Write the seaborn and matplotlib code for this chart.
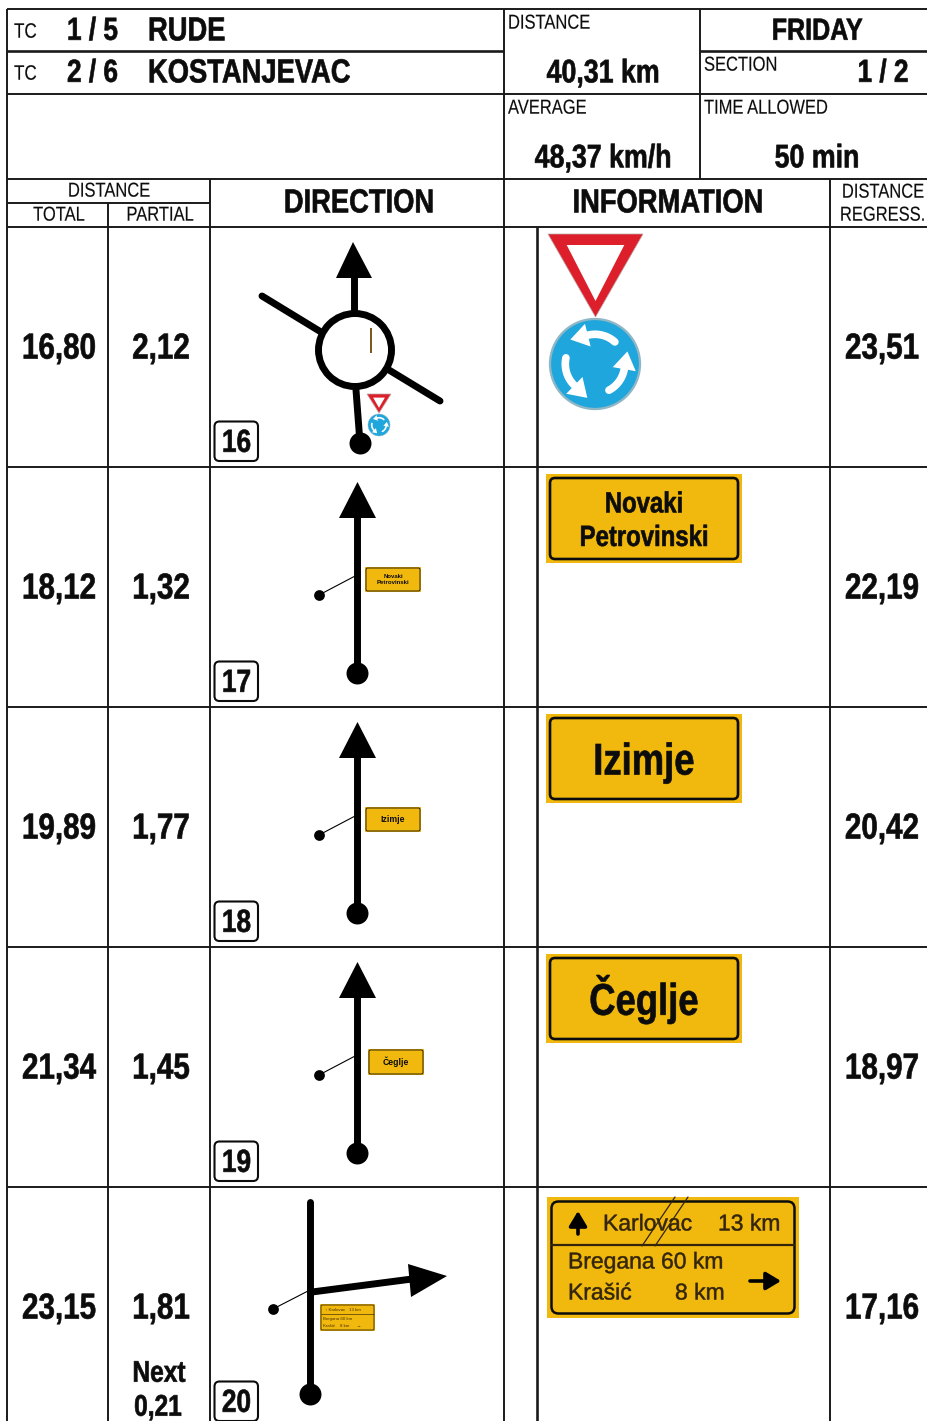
import matplotlib
matplotlib.use("Agg")
import matplotlib.pyplot as plt
from matplotlib.patches import Circle, FancyBboxPatch, Polygon, Rectangle
from matplotlib.patheffects import AbstractPathEffect
from matplotlib.transforms import Affine2D
import numpy as np
import pandas as pd
import seaborn as sns

totals = ["16,80", "18,12", "19,89", "21,34", "23,15"]
partials = ["2,12", "1,32", "1,77", "1,45", "1,81"]
regress = ["23,51", "22,19", "20,42", "18,97", "17,16"]
box_numbers = ["16", "17", "18", "19", "20"]
big_signs = ["Novaki\nPetrovinski", "Izimje", "Čeglje"]
big_sign_sizes = [21, 32, 32]
big_sign_shift = [1, 2, -2]
mini_signs = ["Novaki\nPetrovinski", "Izimje", "Čeglje"]
mini_sign_sizes = [4.3, 6.2, 6.2]

FONT = ["Liberation Sans", "DejaVu Sans"]
YELLOW = "#f1b90e"
BLUE = "#1ea6dd"
RED = "#dd1f2b"
INK = "#0c0c0c"
NARROW = 0.82

ROW_TOPS = [227, 467, 707, 947, 1187]

sns.set_theme(style="white")
plt.rcParams["font.family"] = FONT

fig = plt.figure(figsize=(9.27, 14.21), dpi=100)
ax = fig.add_axes([0, 0, 1, 1])


class Squeeze(AbstractPathEffect):
    # no narrow font installed, so squeeze the glyphs sideways around the anchor
    def __init__(self, x0, sx=NARROW, stroke=0.0):
        super().__init__()
        self.x0 = x0
        self.sx = sx
        self.stroke = stroke

    def draw_path(self, renderer, gc, tpath, affine, rgbFace=None):
        sq = Affine2D().translate(-self.x0, 0).scale(self.sx, 1).translate(self.x0, 0)
        gc0 = renderer.new_gc()
        gc0.copy_properties(gc)
        gc0.set_linewidth(self.stroke)
        gc0.set_foreground(rgbFace)
        renderer.draw_path(gc0, tpath, affine + sq, rgbFace)
        gc0.restore()


def txt(x, y, s, size, bold=True, ha="center", **kw):
    ax.text(x, y + size * 0.08, s, fontsize=size, fontweight="bold" if bold else "normal",
            ha=ha, va="center", color=INK,
            path_effects=[Squeeze(x, stroke=0.45 if bold else 0.1)], **kw)


def roundabout_sign(cx, cy, r, lw):
    # blue disc with three white arrows running round the centre
    ax.add_patch(Circle((cx, cy), r, fc=BLUE, ec="#8fb7c6", lw=lw * 0.3, zorder=3))
    for start, end in [(48, 104), (298, 350), (168, 226)]:
        ang = np.radians(np.linspace(start, end, 20))
        rad = r * 0.66
        ax.plot(cx + rad * np.cos(ang), cy - rad * np.sin(ang), color="white", lw=lw,
                solid_capstyle="round", zorder=4)
        a = ang[-1]
        tang = np.array([-np.sin(a), -np.cos(a)])
        norm = np.array([np.cos(a), -np.sin(a)])
        base = np.array([cx + rad * np.cos(a), cy - rad * np.sin(a)])
        ax.add_patch(Polygon([base + tang * r * 0.4, base + norm * r * 0.26, base - norm * r * 0.26],
                             fc="white", ec="none", zorder=4))


def yield_sign(x0, x1, y0, y1, inset):
    mid = (x0 + x1) / 2
    ax.add_patch(Polygon([(x0, y0), (x1, y0), (mid, y1)], fc=RED, ec="#b9a6a6", lw=0.5, zorder=3))
    ax.add_patch(Polygon([(x0 + inset * 1.7, y0 + inset), (x1 - inset * 1.7, y0 + inset),
                          (mid, y1 - inset * 1.45)], fc="white", ec="none", zorder=4))


def yellow_sign(x0, y0, x1, y1, pad, lw, rnd):
    ax.add_patch(Rectangle((x0, y0), x1 - x0, y1 - y0, fc=YELLOW, ec="none", zorder=2))
    ax.add_patch(FancyBboxPatch((x0 + pad, y0 + pad), x1 - x0 - 2 * pad, y1 - y0 - 2 * pad,
                                boxstyle=f"round,pad=0,rounding_size={rnd}",
                                fc=YELLOW, ec=INK, lw=lw, zorder=3))


# table rules
rule = dict(colors="#1a1a1a", lw=1.4, zorder=5)
ax.hlines([9, 94, 179, 227, 467, 707, 947, 1187], 7, 927, **rule)
ax.hlines(51, 7, 504, lw=1.9, colors="#1a1a1a", zorder=5)
ax.hlines(51, 700, 927, lw=1.9, colors="#1a1a1a", zorder=5)
ax.hlines(203, 7, 210, **rule)
ax.vlines(7, 9, 1421, **rule)
ax.vlines(504, 9, 1421, **rule)
ax.vlines(700, 9, 179, **rule)
ax.vlines(210, 179, 1421, **rule)
ax.vlines(108, 203, 1421, **rule)
ax.vlines(537, 227, 1421, lw=1.9, colors="#1a1a1a", zorder=5)
ax.vlines(830, 179, 1421, **rule)

# header block
txt(14, 31, "TC", 15, bold=False, ha="left")
txt(14, 73, "TC", 15, bold=False, ha="left")
txt(67, 30, "1 / 5", 23, ha="left")
txt(67, 72, "2 / 6", 23, ha="left")
txt(148, 30, "RUDE", 24, ha="left")
txt(148, 72, "KOSTANJEVAC", 24, ha="left")
txt(508, 22, "DISTANCE", 14.5, bold=False, ha="left")
txt(704, 64, "SECTION", 14.5, bold=False, ha="left")
txt(508, 107, "AVERAGE", 14.5, bold=False, ha="left")
txt(704, 107, "TIME ALLOWED", 14.5, bold=False, ha="left")
txt(603, 72, "40,31 km", 23.5)
txt(817, 30, "FRIDAY", 22)
txt(883, 72, "1 / 2", 23)
txt(603, 157, "48,37 km/h", 23.5)
txt(817, 157, "50 min", 23.5)
txt(109, 190, "DISTANCE", 14.5, bold=False)
txt(59, 214, "TOTAL", 14.5, bold=False)
txt(160, 214, "PARTIAL", 14.5, bold=False)
txt(359, 202, "DIRECTION", 24)
txt(668, 202, "INFORMATION", 24)
txt(924, 191, "DISTANCE", 14.5, bold=False, ha="right")
txt(925, 214, "REGRESS.", 14.5, bold=False, ha="right")

# distance columns and number boxes
for top, total, part, reg, num in zip(ROW_TOPS, totals, partials, regress, box_numbers):
    txt(59, top + 120, total, 26)
    txt(161, top + 120, part, 26)
    txt(882, top + 120, reg, 26)
    ax.add_patch(FancyBboxPatch((214.5, top + 194.5), 43.5, 39.5, boxstyle="round,pad=0,rounding_size=5",
                                fc="white", ec=INK, lw=1.5, zorder=6))
    txt(236.5, top + 215, num, 23, zorder=7)
txt(159, 1372, "Next", 21.5)
txt(158, 1406, "0,21", 21.5)

# direction sketches
thick_roads = pd.DataFrame({
    "road": ["a", "a", "b", "b", "c", "c", "d", "d", "e", "e", "f", "f", "g", "g", "h", "h", "i", "i"],
    "x": [354, 354, 262, 321, 389, 440, 356, 360, 357, 357, 357, 357, 357, 357, 310, 310, 312, 412],
    "y": [275, 312, 296, 332, 370, 401, 390, 443, 673, 515, 913, 755, 1153, 995, 1394, 1202, 1292, 1279],
})
thin_roads = pd.DataFrame({
    "road": ["j", "j", "k", "k", "l", "l", "m", "m"],
    "x": [319, 357, 319, 357, 319, 357, 273, 308],
    "y": [595, 575, 835, 815, 1075, 1055, 1309, 1291],
})
sns.lineplot(data=thick_roads, x="x", y="y", units="road", estimator=None, sort=False,
             color="black", lw=5.0, ax=ax, solid_capstyle="round", zorder=4)
sns.lineplot(data=thin_roads, x="x", y="y", units="road", estimator=None, sort=False,
             color="black", lw=0.8, ax=ax, zorder=4)
start_dots = pd.DataFrame({"x": [360, 357, 357, 357, 310], "y": [443, 673, 913, 1153, 1394]})
side_dots = pd.DataFrame({"x": [319, 319, 319, 273], "y": [595, 835, 1075, 1309]})
sns.scatterplot(data=start_dots, x="x", y="y", s=250, color="black", lw=0, ax=ax, zorder=5)
sns.scatterplot(data=side_dots, x="x", y="y", s=60, color="black", lw=0, ax=ax, zorder=5)

ax.add_patch(Circle((355, 350), 36.5, fc="white", ec="black", lw=5.0, zorder=5))
ax.add_patch(Polygon([(353, 242), (372, 278), (336, 278)], fc="black", ec="none", zorder=5))
for top in ROW_TOPS[1:4]:
    ax.add_patch(Polygon([(357.5, top + 15), (376, top + 51), (339, top + 51)], fc="black", ec="none", zorder=5))
ax.add_patch(Polygon([(408, 1264), (447, 1276), (411, 1297)], fc="black", ec="none", zorder=5))
ax.vlines(371.5, 328, 353, colors="#6b4a08", lw=1.3, zorder=6)
yield_sign(367, 391, 394, 413, 3.6)
roundabout_sign(379, 425, 11, 1.2)

# mini signs in the sketches
mini_boxes = [(365, 567, 421, 592), (365, 807, 421, 832), (368, 1049, 424, 1075)]
for box, name, size in zip(mini_boxes, mini_signs, mini_sign_sizes):
    yellow_sign(box[0], box[1], box[2], box[3], 1, 0.6, 1.5)
    ax.text((box[0] + box[2]) / 2, (box[1] + box[3]) / 2, name, fontsize=size, fontweight="bold",
            family=FONT, ha="center", va="center", linespacing=1.1, color=INK, zorder=6)
yellow_sign(320, 1304, 375, 1331, 1, 0.5, 1)
ax.hlines(1314, 321, 374, colors="#4a3208", lw=0.5, zorder=6)
ax.text(325, 1310, "↑ Karlovac   13 km", fontsize=3.2, family=FONT, color="#4a3208", ha="left", va="center", zorder=6)
ax.text(323, 1319, "Bregana 60 km", fontsize=3.2, family=FONT, color="#4a3208", ha="left", va="center", zorder=6)
ax.text(323, 1326, "Krašić    8 km      →", fontsize=3.2, family=FONT, color="#4a3208", ha="left", va="center", zorder=6)

# information column
yield_sign(548, 643, 234, 317, 11)
roundabout_sign(595, 364, 45, 5.5)

info_boxes = [(546, 474, 742, 563), (546, 714, 742, 803), (546, 954, 742, 1043)]
for box, name, size, shift in zip(info_boxes, big_signs, big_sign_sizes, big_sign_shift):
    yellow_sign(box[0], box[1], box[2], box[3], 4, 1.9, 5)
    txt((box[0] + box[2]) / 2, (box[1] + box[3]) / 2 + shift, name, size, zorder=6, linespacing=1.25)

# big direction sign, row five
BROWN = "#33240c"
yellow_sign(547, 1197, 799, 1318, 4.5, 1.8, 7)
ax.hlines(1245, 551, 795, colors=BROWN, lw=1.6, zorder=6)
for x, y, s in [(603, 1224, "Karlovac"), (718, 1224, "13 km"), (568, 1262, "Bregana 60 km"), (568, 1293, "Krašić"), (675, 1293, "8 km")]:
    ax.text(x, y, s, fontsize=16.5, family=FONT, color=BROWN, ha="left", va="center", zorder=6,
            path_effects=[Squeeze(x, sx=1.0, stroke=0.35)])
for x, y, dx, dy in [(578, 1234, 0, -23), (750, 1281, 31, 0)]:
    ax.annotate("", xy=(x + dx, y + dy), xytext=(x, y), zorder=6,
                arrowprops=dict(arrowstyle="-|>,head_length=0.5,head_width=0.3", color="black", lw=2.6,
                                mutation_scale=18, shrinkA=0, shrinkB=0))
ax.plot([642, 675], [1246, 1197], color=BROWN, lw=0.9, zorder=7)
ax.plot([655, 688], [1246, 1197], color=BROWN, lw=0.9, zorder=7)

ax.set_xlim(0, 927)
ax.set_ylim(1421, 0)
ax.set_axis_off()
fig.savefig("out.png", dpi=100, facecolor="white")
